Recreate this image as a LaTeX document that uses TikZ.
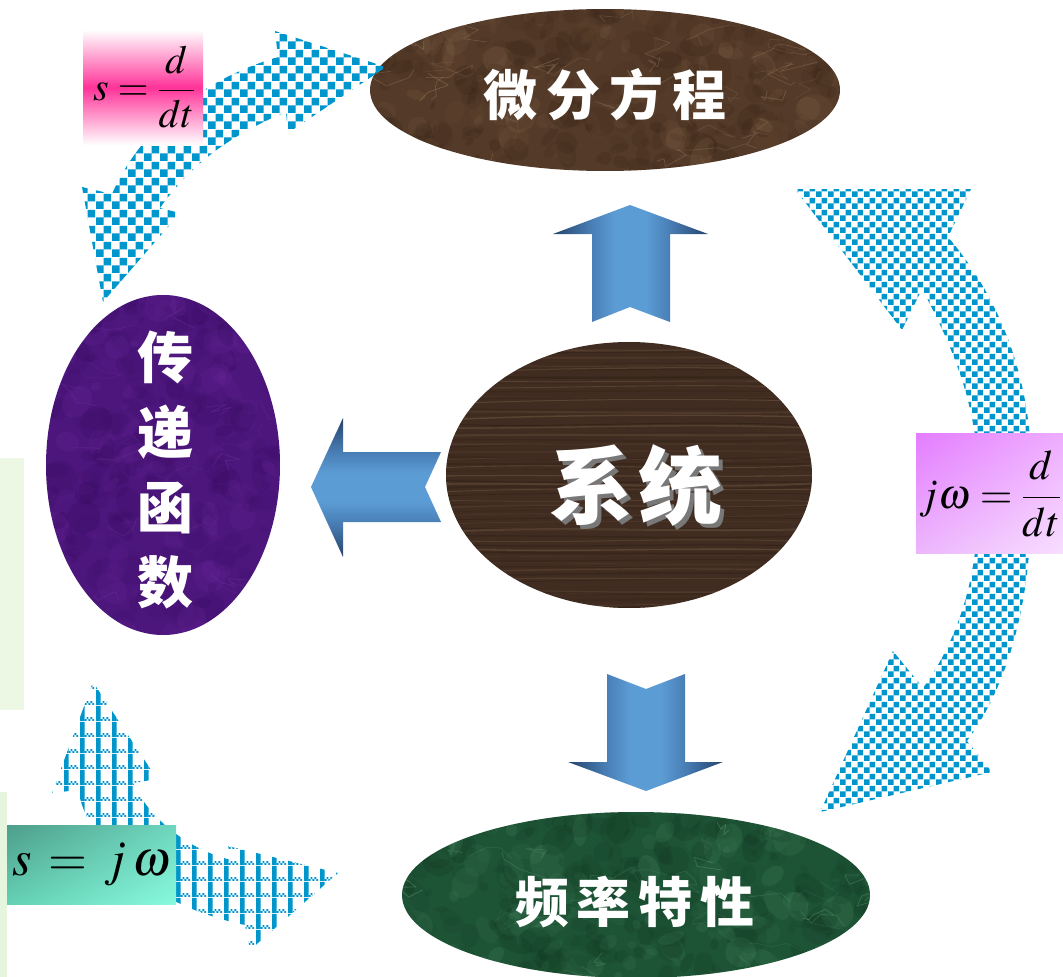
\documentclass[tikz,border=0pt]{standalone}
\usepackage{mathptmx}
\usepackage[no-math]{fontspec}
\newfontfamily\cjk{Noto Sans CJK SC}
\usetikzlibrary{shapes.geometric,patterns.meta,calc,shadings}

\definecolor{chk}{RGB}{0,150,204}
\definecolor{bkdark}{RGB}{38,68,108}
\definecolor{bkmid}{RGB}{72,125,180}
\definecolor{bklight}{RGB}{92,156,213}
\definecolor{pinkc}{RGB}{255,51,153}
\definecolor{vioA}{RGB}{228,125,255}
\definecolor{vioB}{RGB}{238,172,255}
\definecolor{vioC}{RGB}{236,182,252}
\definecolor{vioD}{RGB}{248,222,255}
\definecolor{tealA}{RGB}{78,158,138}
\definecolor{tealB}{RGB}{110,214,190}
\definecolor{tealC}{RGB}{100,208,180}
\definecolor{tealD}{RGB}{136,250,222}
\definecolor{lgreenA}{RGB}{236,247,228}
\definecolor{lgreenB}{RGB}{230,245,222}
\definecolor{mbrown}{RGB}{84,58,40}
\definecolor{mbrownD}{RGB}{50,32,20}
\definecolor{mbrownL}{RGB}{135,105,78}
\definecolor{mbrownV}{RGB}{175,145,112}
\definecolor{mpurple}{RGB}{76,22,124}
\definecolor{mpurpleD}{RGB}{52,10,92}
\definecolor{mpurpleL}{RGB}{112,44,160}
\definecolor{mpurpleV}{RGB}{120,60,165}
\definecolor{wood}{RGB}{64,44,32}
\definecolor{woodD}{RGB}{42,28,20}
\definecolor{woodL}{RGB}{112,88,66}
\definecolor{mgreen}{RGB}{30,84,54}
\definecolor{mgreenD}{RGB}{14,48,28}
\definecolor{mgreenL}{RGB}{72,138,98}
\definecolor{mgreenV}{RGB}{110,170,130}
\definecolor{shadowgray}{RGB}{120,120,120}

\pgfdeclarehorizontalshading{blockshade}{100bp}{color(0bp)=(bkdark); color(25bp)=(bkdark); color(37bp)=(bkmid); color(45bp)=(bklight); color(55bp)=(bklight); color(63bp)=(bkmid); color(75bp)=(bkdark); color(100bp)=(bkdark)}

\tikzdeclarepattern{name=chkbig, type=uncolored,
  bottom left={(0pt,0pt)}, top right={(16pt,16pt)}, tile size={(16pt,16pt)},
  code={\fill (0pt,0pt) rectangle (8pt,8pt); \fill (8pt,8pt) rectangle (16pt,16pt);}}
\tikzdeclarepattern{name=chksmall, type=uncolored,
  bottom left={(0pt,0pt)}, top right={(12pt,12pt)}, tile size={(12pt,12pt)},
  code={\fill (0pt,0pt) rectangle (6pt,6pt); \fill (6pt,6pt) rectangle (12pt,12pt);}}
\tikzdeclarepattern{name=gingham, type=uncolored,
  bottom left={(0pt,0pt)}, top right={(16pt,16pt)}, tile size={(16pt,16pt)},
  code={\fill (0pt,0pt) rectangle (5pt,16pt);
        \fill (5pt,0pt) rectangle (7pt,2pt); \fill (9pt,0pt) rectangle (11pt,2pt); \fill (13pt,0pt) rectangle (15pt,2pt);
        \fill (7pt,2pt) rectangle (9pt,4pt); \fill (11pt,2pt) rectangle (13pt,4pt);}}

\newcommand{\mkblot}[8]{%
  \foreach \i in {1,...,#8}{%
    \pgfmathsetmacro{\bx}{#1+#3*rand}%
    \pgfmathsetmacro{\by}{#2+#4*rand}%
    \pgfmathsetmacro{\br}{4+14*rnd}%
    \pgfmathsetmacro{\bs}{0.4+0.6*rnd}%
    \pgfmathsetmacro{\bt}{180*rnd}%
    \pgfmathsetmacro{\bo}{0.06+0.16*rnd}%
    \pgfmathtruncatemacro{\bc}{mod(\i,3)}%
    \ifcase\bc\relax
      \fill[#5,opacity=\bo] (\bx,\by) ellipse[x radius=\br, y radius=\br*\bs, rotate=\bt];%
    \or
      \fill[#6,opacity=\bo] (\bx,\by) ellipse[x radius=\br, y radius=\br*\bs, rotate=\bt];%
    \or
      \fill[#7,opacity=\bo] (\bx,\by) ellipse[x radius=\br, y radius=\br*\bs, rotate=\bt];%
    \fi
  }%
}
\newcommand{\mkvein}[6]{%
  \foreach \i in {1,...,#6}{%
    \pgfmathsetmacro{\vx}{#1+#3*rand}%
    \pgfmathsetmacro{\vy}{#2+#4*rand}%
    \pgfmathsetmacro{\vo}{0.12+0.25*rnd}%
    \draw[#5,opacity=\vo,line width=0.8pt,line join=round]
      (\vx,\vy) -- ++(25*rand,12*rand) -- ++(25*rand,12*rand) -- ++(25*rand,12*rand) -- ++(25*rand,12*rand);%
  }%
}

\begin{document}
\begin{tikzpicture}[x=1pt,y=-1pt,
  ell/.style={ellipse, inner sep=0pt},
  ctext/.style={text=white, inner sep=0pt},
  formula/.style={inner sep=0pt, text=black},
  carrow/.style={pattern color=chk},
  blockarrow/.style={shading=blockshade}]
\pgfmathsetseed{7}
\useasboundingbox (0,0) rectangle (1063,977);
\fill[white] (0,0) rectangle (1063,977);

% light green strips at left edge
\fill[lgreenA] (0,458) rectangle (24,710);
\fill[lgreenB] (0,792) rectangle (7,977);

% ---- top ellipse (marble brown)
\begin{scope}
  \clip (605,90) ellipse [x radius=235, y radius=81];
  \fill[mbrown] (370,9) rectangle (840,171);
  \mkblot{605}{90}{235}{81}{mbrownD}{mbrownL}{mbrownD}{320}
  \mkvein{605}{90}{235}{81}{mbrownV}{40}
\end{scope}
\node[ell, minimum width=470pt, minimum height=162pt] (top) at (605,90) {};
\node[ctext, font=\cjk\bfseries\fontsize{54}{60}\selectfont] (toptxt) at (605,95) {微\hspace{9pt}分\hspace{9pt}方\hspace{9pt}程};

% ---- left ellipse (purple)
\begin{scope}
  \clip (163,465) ellipse [x radius=117, y radius=170];
  \fill[mpurple] (46,295) rectangle (280,635);
  \mkblot{163}{465}{117}{170}{mpurpleD}{mpurpleL}{mpurpleD}{320}
  \mkvein{163}{465}{117}{170}{mpurpleV}{25}
\end{scope}
\node[ell, minimum width=234pt, minimum height=340pt] (lft) at (163,465) {};
\node[ctext, align=center, font=\cjk\bfseries\fontsize{56}{75}\selectfont] (lfttxt) at (165,470) {传\\递\\函\\数};

% ---- centre ellipse (wood)
\begin{scope}
  \clip (629,475) ellipse [x radius=183, y radius=133];
  \fill[wood] (446,342) rectangle (812,608);
  \foreach \i in {0,...,68}{%
    \pgfmathsetmacro{\wy}{340+\i*4}%
    \pgfmathsetmacro{\wa}{7*rand}%
    \pgfmathsetmacro{\wb}{7*rand}%
    \pgfmathsetmacro{\wo}{0.15+0.4*rnd}%
    \pgfmathsetmacro{\ww}{0.4+1.8*rnd}%
    \pgfmathtruncatemacro{\wc}{mod(\i,2)}%
    \ifnum\wc=0
      \draw[woodL,opacity=\wo,line width=\ww pt] (440,\wy) .. controls (560,\wy+\wa) and (700,\wy+\wb) .. (820,\wy+0.5*\wa);%
    \else
      \draw[woodD,opacity=\wo,line width=\ww pt] (440,\wy) .. controls (560,\wy+\wa) and (700,\wy+\wb) .. (820,\wy+0.5*\wa);%
    \fi
  }
\end{scope}
\node[ell, minimum width=366pt, minimum height=266pt] (sys) at (629,475) {};
\node[ctext, font=\cjk\bfseries\fontsize{84}{90}\selectfont] (systxt) at (636,487)
  {\rlap{\kern4pt\raisebox{-4pt}{\textcolor{shadowgray}{系\hspace{6pt}统}}}系\hspace{6pt}统};

% ---- bottom ellipse (green marble)
\begin{scope}
  \clip (636,895) ellipse [x radius=234, y radius=83];
  \fill[mgreen] (402,812) rectangle (870,978);
  \mkblot{636}{895}{234}{83}{mgreenD}{mgreenL}{mgreenD}{320}
  \mkvein{636}{895}{234}{83}{mgreenV}{40}
\end{scope}
\node[ell, minimum width=468pt, minimum height=166pt] (bot) at (636,895) {};
\node[ctext, font=\cjk\bfseries\fontsize{54}{60}\selectfont] (bottxt) at (635,902) {频\hspace{8pt}率\hspace{8pt}特\hspace{8pt}性};

% ---- blue block arrows
\shade[blockarrow] (630,205) -- (708,234) -- (670,234) -- (670,322) -- (630,307) -- (592,322) -- (592,234) -- (553,234) -- cycle;
\shade[blockarrow, shading angle=90] (311,487) -- (343,418) -- (343,452) -- (441,452) -- (425,487) -- (441,522) -- (343,522) -- (343,557) -- cycle;
\shade[blockarrow] (607,674) -- (646,689) -- (685,674) -- (685,762) -- (723,762) -- (646,791) -- (568,762) -- (607,762) -- cycle;

% ---- curved checkered arrows
\fill[carrow, pattern=chkbig] (386,67) -- (275,31) -- (278,57)
  .. controls (200,80) and (140,130) .. (112,194) -- (82,187) -- (103,302) -- (180,213) -- (160,208)
  .. controls (190,165) and (230,135) .. (286,112) -- (288,133) -- cycle;
\fill[carrow, pattern=chksmall] (795,189) -- (971,189) -- (948,237)
  .. controls (1010,310) and (1035,400) .. (1031,490)
  .. controls (1033,590) and (1012,680) .. (967,741) -- (992,772) -- (820,812) -- (893,651) -- (923,688)
  .. controls (965,630) and (980,560) .. (978,490)
  .. controls (980,420) and (960,360) .. (922,289) -- (902,330) -- cycle;
\fill[carrow, pattern=gingham] (93,682) -- (157,779) -- (133,783)
  .. controls (150,820) and (190,850) .. (231,860) -- (228,846) -- (338,873) -- (250,950) -- (245,925)
  .. controls (150,905) and (90,850) .. (78,790) -- (52,793) -- cycle;

% ---- formula labels
\shade[top color=white, bottom color=white, middle color=pinkc] (83,30) rectangle (203,145);
\node[formula, font=\fontsize{40}{48}\selectfont] (f1) at (144,87) {$\displaystyle s=\frac{d}{dt}$};

\shade[upper left=vioA, upper right=vioB, lower left=vioC, lower right=vioD] (916,433) rectangle (1063,553);
\node[formula, font=\fontsize{42}{50}\selectfont] (f2) at (990,494) {$\displaystyle j\omega=\frac{d}{dt}$};

\shade[upper left=tealA, upper right=tealB, lower left=tealC, lower right=tealD] (7,825) rectangle (176,904);
\node[formula, font=\fontsize{50}{60}\selectfont] (f3) at (92,864) {$s\,=\,j\,\omega$};
\end{tikzpicture}
\end{document}
